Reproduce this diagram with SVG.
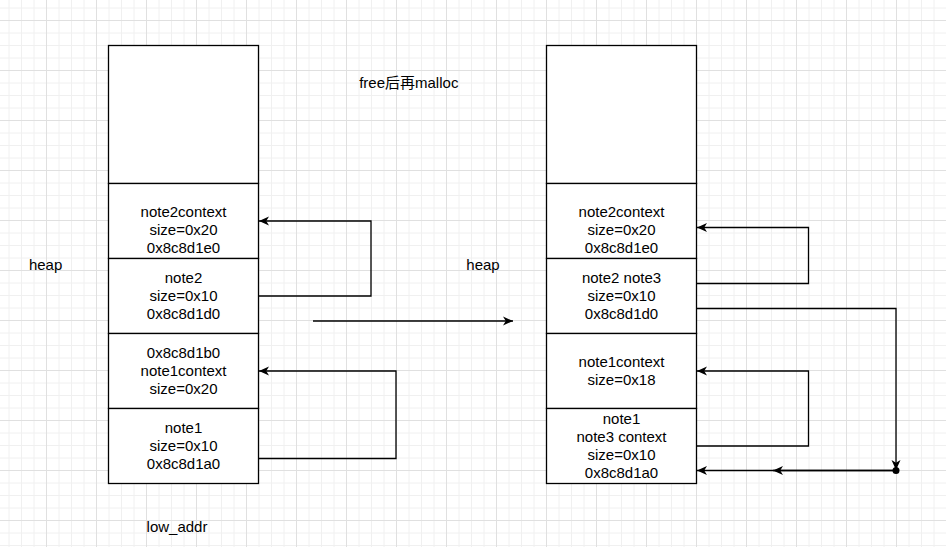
<svg xmlns="http://www.w3.org/2000/svg" width="946" height="547" viewBox="0 0 946 547">
  <defs>
    <pattern id="grid" patternUnits="userSpaceOnUse" x="46" y="20" width="50" height="50">
      <path d="M13 0V50M25.5 0V50M38 0V50M0 13H50M0 25.5H50M0 38H50" stroke="#f0f0f0" stroke-width="1" fill="none"/>
      <path d="M0.5 0V50M0 0.5H50" stroke="#e0e0e0" stroke-width="1" fill="none"/>
    </pattern>
    <marker id="arr" viewBox="0 0 10 10" refX="10" refY="5" markerWidth="10" markerHeight="10" markerUnits="userSpaceOnUse" orient="auto">
      <path d="M10 5L0 0.5L2.8 5L0 9.5Z" fill="#000"/>
    </marker>
    <style>
      .box { fill: #fff; stroke: #000; stroke-width: 1.3; }
      .t { font-family: "Liberation Sans", Arial, "Noto Sans CJK SC", sans-serif; font-size: 15px; fill: #000; text-anchor: middle; }
      .c { fill: none; stroke: #000; stroke-width: 1.3; }
      .ca { fill: none; stroke: #000; stroke-width: 1.3; marker-end: url(#arr); }
    </style>
  </defs>
  <rect width="946" height="547" fill="#fff"/>
  <rect width="946" height="547" fill="url(#grid)"/>

  <g id="labels">
    <text class="t" x="45.6" y="270">heap</text>
    <text class="t" x="483" y="270">heap</text>
    <text class="t" x="408.8" y="88">free后再malloc</text>
    <text class="t" x="177" y="532">low_addr</text>
  </g>

  <g id="left-top"><rect class="box" x="108.5" y="45.5" width="150" height="138"/></g>
  <g id="left-note2context">
    <rect class="box" x="108.5" y="183.5" width="150" height="75"/>
    <text class="t" x="183.5" y="217">note2context</text>
    <text class="t" x="183.5" y="235">size=0x20</text>
    <text class="t" x="183.5" y="253">0x8c8d1e0</text>
  </g>
  <g id="left-note2">
    <rect class="box" x="108.5" y="258.5" width="150" height="75"/>
    <text class="t" x="183.5" y="283">note2</text>
    <text class="t" x="183.5" y="301">size=0x10</text>
    <text class="t" x="183.5" y="319">0x8c8d1d0</text>
  </g>
  <g id="left-note1context">
    <rect class="box" x="108.5" y="333.5" width="150" height="75"/>
    <text class="t" x="183.5" y="358">0x8c8d1b0</text>
    <text class="t" x="183.5" y="376">note1context</text>
    <text class="t" x="183.5" y="394">size=0x20</text>
  </g>
  <g id="left-note1">
    <rect class="box" x="108.5" y="408.5" width="150" height="75"/>
    <text class="t" x="183.5" y="433">note1</text>
    <text class="t" x="183.5" y="451">size=0x10</text>
    <text class="t" x="183.5" y="469">0x8c8d1a0</text>
  </g>

  <g id="right-top"><rect class="box" x="546.5" y="45.5" width="150" height="138"/></g>
  <g id="right-note2context">
    <rect class="box" x="546.5" y="183.5" width="150" height="75"/>
    <text class="t" x="621.5" y="217">note2context</text>
    <text class="t" x="621.5" y="235">size=0x20</text>
    <text class="t" x="621.5" y="253">0x8c8d1e0</text>
  </g>
  <g id="right-note2note3">
    <rect class="box" x="546.5" y="258.5" width="150" height="75"/>
    <text class="t" x="621.5" y="283">note2 note3</text>
    <text class="t" x="621.5" y="301">size=0x10</text>
    <text class="t" x="621.5" y="319">0x8c8d1d0</text>
  </g>
  <g id="right-note1context">
    <rect class="box" x="546.5" y="333.5" width="150" height="75"/>
    <text class="t" x="621.5" y="367">note1context</text>
    <text class="t" x="621.5" y="385">size=0x18</text>
  </g>
  <g id="right-note1">
    <rect class="box" x="546.5" y="408.5" width="150" height="75"/>
    <text class="t" x="621.5" y="424">note1</text>
    <text class="t" x="621.5" y="442">note3 context</text>
    <text class="t" x="621.5" y="460">size=0x10</text>
    <text class="t" x="621.5" y="478">0x8c8d1a0</text>
  </g>

  <g id="connectors">
    <path class="ca" d="M258.5 296H371V221H259"/>
    <path class="ca" d="M258.5 458.5H396V371H259"/>
    <path class="ca" d="M313 321H513"/>
    <path class="ca" d="M696.5 283.5H808.5V227.5H697"/>
    <path class="ca" d="M696.5 308.5H896V470"/>
    <path class="ca" d="M896 470.5H697"/>
    <path class="ca" d="M896 470.5H773"/>
    <path class="ca" d="M696.5 446H808.5V371H697"/>
    <circle cx="896" cy="470.5" r="3.5" fill="#000"/>
  </g>
</svg>
